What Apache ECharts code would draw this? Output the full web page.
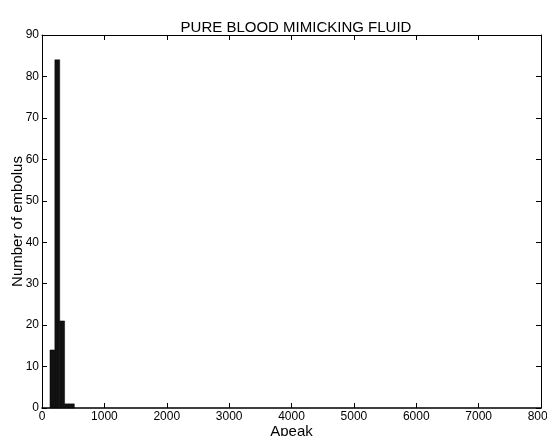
<!DOCTYPE html>
<html>
<head>
<meta charset="utf-8">
<script src="https://cdn.jsdelivr.net/npm/echarts@6/dist/echarts.min.js"></script>
<style>
  html, body { margin: 0; padding: 0; background: #fff; }
  #chart { width: 547px; height: 436px; }
</style>
</head>
<body>
<div id="chart"></div>
<script>
// histogram bins (Apeak) and counts
const binEdges = [128, 206, 284, 362, 440, 518];
const counts = [14, 84, 21, 1, 1];
const xTicks = [0, 1000, 2000, 3000, 4000, 5000, 6000, 7000, 8000];
const yTicks = [0, 10, 20, 30, 40, 50, 60, 70, 80, 90];

const bins = counts.map((c, i) => [binEdges[i], binEdges[i + 1], c]);

const font = 'Liberation Sans, Arial, sans-serif';
const chart = echarts.init(document.getElementById('chart'), null, { renderer: 'canvas' });

const boxAxis = {
  axisLine: { show: true, onZero: false, lineStyle: { color: '#000', width: 1 } },
  axisTick: { show: true, inside: true, length: 5, lineStyle: { color: '#000' } },
  splitLine: { show: false }
};

chart.setOption({
  animation: false,
  backgroundColor: '#fff',
  title: {
    text: 'PURE BLOOD MIMICKING FLUID',
    left: 291, top: 15, textAlign: 'center',
    textStyle: { fontFamily: font, fontSize: 15, fontWeight: 'normal', color: '#000' }
  },
  grid: { left: 42, right: 6, top: 35, bottom: 28, outerBoundsMode: 'none', containLabel: false },
  xAxis: [
    Object.assign({}, boxAxis, {
      type: 'value', min: xTicks[0], max: xTicks[xTicks.length - 1], interval: 1000,
      position: 'bottom',
      name: 'Apeak', nameLocation: 'middle', nameGap: 16, nameMoveOverlap: false,
      nameTextStyle: { fontFamily: font, fontSize: 15, color: '#000' },
      axisLine: { show: true, onZero: false, lineStyle: { color: '#000', width: 1.5 } },
      axisLabel: { fontFamily: font, fontSize: 12, color: '#000', margin: 3, showMaxLabel: true,
        formatter: v => String(v) }
    }),
    Object.assign({}, boxAxis, {
      type: 'value', min: xTicks[0], max: xTicks[xTicks.length - 1], interval: 1000,
      position: 'top', axisLabel: { show: false }
    })
  ],
  yAxis: [
    Object.assign({}, boxAxis, {
      type: 'value', min: yTicks[0], max: yTicks[yTicks.length - 1], interval: 10,
      position: 'left',
      name: 'Number of embolus', nameLocation: 'middle', nameGap: 17, nameMoveOverlap: false,
      nameTextStyle: { fontFamily: font, fontSize: 15, color: '#000' },
      axisLabel: { fontFamily: font, fontSize: 12, color: '#000', margin: 3,
        formatter: v => String(v) }
    }),
    Object.assign({}, boxAxis, {
      type: 'value', min: yTicks[0], max: yTicks[yTicks.length - 1], interval: 10,
      position: 'right', axisLabel: { show: false }
    })
  ],
  series: [{
    type: 'custom',
    xAxisIndex: 0, yAxisIndex: 0,
    data: bins,
    renderItem: function (params, api) {
      const p0 = api.coord([api.value(0), api.value(2)]);
      const p1 = api.coord([api.value(1), 0]);
      return {
        type: 'rect',
        shape: { x: p0[0], y: p0[1], width: p1[0] - p0[0], height: p1[1] - p0[1] },
        style: { fill: '#111', stroke: '#000', lineWidth: 0.5 }
      };
    }
  }]
});
</script>
</body>
</html>
